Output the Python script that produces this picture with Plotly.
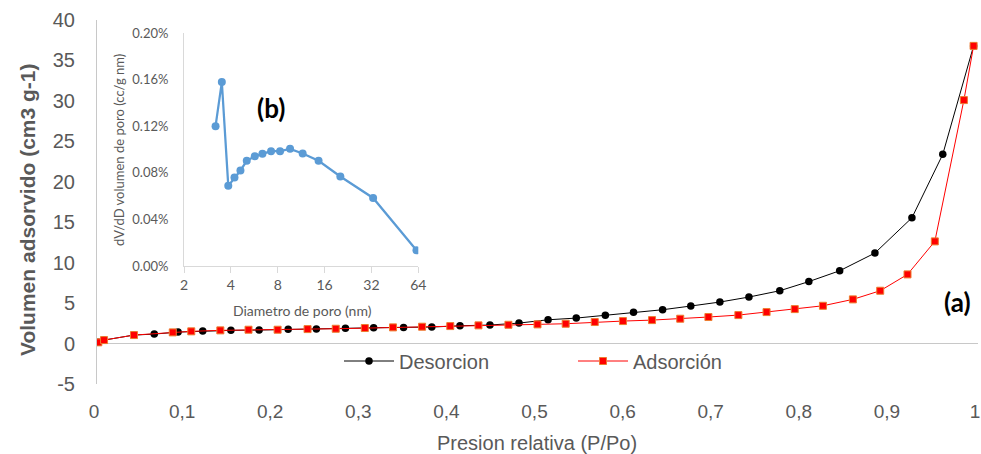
import plotly.graph_objects as go

# Isotherm: relative pressure (P/Po) vs adsorbed volume (cm3/g)
p_desorcion = [0.0015, 0.008, 0.042, 0.065, 0.092, 0.120, 0.152, 0.184, 0.217, 0.249,
               0.282, 0.314, 0.348, 0.380, 0.412, 0.446, 0.479, 0.512, 0.544, 0.577,
               0.609, 0.642, 0.674, 0.707, 0.740, 0.775, 0.808, 0.843, 0.883, 0.925,
               0.960, 0.995]
v_desorcion = [0.15, 0.43, 1.05, 1.17, 1.42, 1.55, 1.63, 1.67, 1.76, 1.79,
               1.88, 1.95, 2.00, 2.04, 2.20, 2.29, 2.53, 2.94, 3.15, 3.49,
               3.86, 4.18, 4.64, 5.13, 5.75, 6.53, 7.66, 9.00, 11.19, 15.55,
               23.39, 36.8]

p_adsorcion = [0.0015, 0.008, 0.042, 0.086, 0.107, 0.140, 0.172, 0.205, 0.239, 0.271,
               0.304, 0.336, 0.369, 0.401, 0.433, 0.467, 0.500, 0.532, 0.565, 0.597,
               0.630, 0.662, 0.694, 0.728, 0.760, 0.792, 0.824, 0.858, 0.889, 0.920,
               0.951, 0.984, 0.995]
v_adsorcion = [0.15, 0.43, 1.05, 1.38, 1.51, 1.63, 1.71, 1.71, 1.79, 1.83,
               1.92, 2.00, 2.08, 2.16, 2.25, 2.32, 2.37, 2.45, 2.66, 2.78,
               2.90, 3.07, 3.28, 3.52, 3.89, 4.26, 4.67, 5.46, 6.53, 8.55,
               12.63, 30.1, 36.8]

x_ticks = [0, 0.1, 0.2, 0.3, 0.4, 0.5, 0.6, 0.7, 0.8, 0.9, 1]
x_ticktext = ["0", "0,1", "0,2", "0,3", "0,4", "0,5", "0,6", "0,7", "0,8", "0,9", "1"]
y_ticks = [-5, 0, 5, 10, 15, 20, 25, 30, 35, 40]
y_ticktext = ["-5", "0", "5", "10", "15", "20", "25", "30", "35", "40"]

# Pore size distribution (inset)
diametro = [3.19, 3.50, 3.85, 4.22, 4.61, 5.06, 5.70, 6.38, 7.25, 8.28,
            9.60, 11.57, 14.64, 20.2, 32.8, 62.3]
dv_dd = [0.001202, 0.001581, 0.000689, 0.000760, 0.000821, 0.000904, 0.000944,
         0.000964, 0.000987, 0.000987, 0.001007, 0.000967, 0.000904, 0.000769,
         0.000585, 0.000135]
inset_xticks = [2, 4, 8, 16, 32, 64]
inset_yticks = [0, 0.0004, 0.0008, 0.0012, 0.0016, 0.0020]

W, H = 981, 454
GREY_TXT = "#595959"
MAIN_FONT = "Liberation Sans, Arial, sans-serif"
INSET_FONT = "Lato, Open Sans, sans-serif"


def px_x(v):
    return v / W


def px_y(v):
    return (H - v) / H


fig = go.Figure()

fig.add_trace(go.Scatter(
    x=p_desorcion, y=v_desorcion, name="Desorcion", mode="lines+markers",
    line=dict(color="black", width=1),
    marker=dict(symbol="circle", size=7.5, color="black"),
    xaxis="x", yaxis="y",
))
fig.add_trace(go.Scatter(
    x=p_adsorcion, y=v_adsorcion, name="Adsorción", mode="lines+markers",
    line=dict(color="#FF0000", width=1),
    marker=dict(symbol="square", size=7, color="#FF0000",
                line=dict(color="#ED7D31", width=1)),
    xaxis="x", yaxis="y",
))
fig.add_trace(go.Scatter(
    x=diametro, y=dv_dd, mode="lines+markers", showlegend=False,
    line=dict(color="#5B9BD5", width=2.25),
    marker=dict(symbol="circle", size=8, color="#5B9BD5"),
    xaxis="x2", yaxis="y2",
))

fig.update_layout(
    width=W, height=H,
    margin=dict(l=0, r=0, t=0, b=0, autoexpand=False),
    paper_bgcolor="white", plot_bgcolor="rgba(0,0,0,0)",
    font=dict(family=MAIN_FONT, color=GREY_TXT),
    xaxis=dict(
        domain=[px_x(97), px_x(978)], range=[0, 1],
        tickvals=x_ticks, ticktext=x_ticktext,
        tickfont=dict(size=19, color=GREY_TXT),
        showgrid=False, zeroline=False, showline=False,
        ticks="", ticklabelstandoff=14, ticklabelshift=-3, automargin=False,
        ticklabeloverflow="allow",
        anchor="y",
    ),
    yaxis=dict(
        domain=[px_y(384), px_y(20)], range=[-5, 40],
        tickvals=y_ticks, ticktext=y_ticktext,
        tickfont=dict(size=20, color=GREY_TXT),
        showgrid=False, zeroline=True, zerolinecolor="#C8C8C8", zerolinewidth=1,
        showline=True, linecolor="#C8C8C8", linewidth=1,
        ticks="", ticklabelstandoff=17, automargin=False,
        ticklabeloverflow="allow",
        anchor="x",
    ),
    xaxis2=dict(
        type="log", domain=[px_x(184), px_x(418.3)],
        range=[0.30103, 1.80618],
        tickvals=inset_xticks, ticktext=[str(t) for t in inset_xticks],
        tickfont=dict(size=14, family=INSET_FONT, color=GREY_TXT),
        showgrid=False, zeroline=False,
        showline=True, linecolor="#D9D9D9", linewidth=1,
        ticks="outside", ticklen=6, tickcolor="#D9D9D9", automargin=False,
        anchor="y2",
    ),
    yaxis2=dict(
        domain=[px_y(266), px_y(33.3)], range=[0, 0.002],
        tickvals=inset_yticks, tickformat=".2%",
        tickfont=dict(size=13, family=INSET_FONT, color=GREY_TXT),
        showgrid=False, zeroline=False,
        showline=True, linecolor="#D9D9D9", linewidth=1,
        ticks="", ticklabelstandoff=12, automargin=False,
        anchor="x2",
    ),
    legend=dict(
        orientation="h", x=px_x(339), y=px_y(361), xanchor="left", yanchor="middle",
        font=dict(size=20, family=MAIN_FONT, color=GREY_TXT),
        bgcolor="rgba(0,0,0,0)", itemwidth=50,
        entrywidth=169, entrywidthmode="pixels",
        tracegroupgap=0,
    ),
    showlegend=True,
)

annotations = [
    dict(text="<b>Volumen adsorvido (cm3 g-1)</b>", x=px_x(27), y=px_y(210),
         textangle=-90, font=dict(size=21, family=MAIN_FONT, color=GREY_TXT)),
    dict(text="Presion relativa (P/Po)", x=px_x(537), y=px_y(443),
         font=dict(size=20, family=MAIN_FONT, color=GREY_TXT)),
    dict(text="dV/dD volumen de poro (cc/g nm)", x=px_x(119), y=px_y(150),
         textangle=-90, font=dict(size=13, family=INSET_FONT, color=GREY_TXT)),
    dict(text="Diametro de poro (nm)", x=px_x(302), y=px_y(310),
         font=dict(size=14, family=INSET_FONT, color=GREY_TXT)),
    dict(text="<b>(b)</b>", x=px_x(271), y=px_y(108),
         font=dict(size=26, family=INSET_FONT, color="black")),
    dict(text="<b>(a)</b>", x=px_x(957), y=px_y(302),
         font=dict(size=26, family=INSET_FONT, color="black")),
]
for a in annotations:
    a.update(xref="paper", yref="paper", showarrow=False,
             xanchor="center", yanchor="middle")
fig.update_layout(annotations=annotations)

fig.write_html("out.html")
